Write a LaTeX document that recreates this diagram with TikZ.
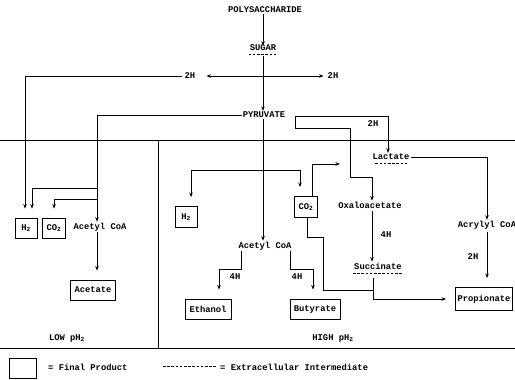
\documentclass[tikz,border=0pt]{standalone}
\usepackage{fontspec}
\setmainfont{Liberation Mono}
\usetikzlibrary{arrows.meta,calc}
\begin{document}
\begin{tikzpicture}[x=1pt,y=-1pt,
  every node/.style={font=\fontsize{8.8}{10}\selectfont\bfseries, inner sep=1pt},
  prod/.style={draw, line width=0.9pt, minimum height=20pt, inner sep=2pt},
  ln/.style={line width=0.9pt},
  arr/.style={ln, -{Stealth[length=4.5pt,width=3.5pt]}},
  tobox/.style={arr, shorten >=9pt},
  dsh/.style={line width=0.8pt, dash pattern=on 2.6pt off 1.6pt}]
\useasboundingbox (0,0) rectangle (515,380);
\coordinate (cx) at (263,0);
\coordinate (sx) at (372,0);

% top chain
\node (poly) at (265,10) {POLYSACCHARIDE};
\node (sugar) at (263,48) {SUGAR};
\draw[dsh] ([yshift=-2.5pt]sugar.south west) -- ([yshift=-2.5pt]sugar.south east);
\node (pyr) at (264,115) {PYRUVATE};
\node (h2l) at (190,76) {2H};
\node (h2r) at (333,76) {2H};
\coordinate (sb) at (263,76);
\draw[arr] (poly.south -| cx) -- ([yshift=-2pt]sugar.north -| cx);
\draw[arr] ([yshift=-4pt]sugar.south -| cx) -- (pyr.north -| cx);
\draw[arr] (sb) -- ([xshift=10pt]h2l.east);
\draw[arr] (sb) -- ([xshift=-3pt]h2r.west);

% dividers
\draw[ln] (0,140) -- (515,140);
\draw[ln] (158,140) -- (158,348);
\draw[ln] (0,348) -- (515,348);

% LOW pH2 region
\node[prod, minimum width=22pt] (lh2) at (26,228) {H\textsubscript{2}};
\node[prod, minimum width=23pt] (lco2) at (54,228) {CO\textsubscript{2}};
\node (lacoa) at (100,227) {Acetyl CoA};
\node[prod, minimum width=45pt] (acet) at (93,290) {Acetate};
\draw[tobox] ([xshift=-2pt]h2l.west) -| ([xshift=-1pt]lh2.north);
\draw[arr] (pyr.west) -| ([xshift=-3pt]lacoa.north);
\coordinate (lb1) at (97,188);
\coordinate (lb2) at (97,199);
\draw[tobox] (lb1) -| ([xshift=6pt]lh2.north);
\draw[tobox] (lb2) -| (lco2.north);
\draw[tobox] ([xshift=-3pt]lacoa.south) -- ([xshift=4pt]acet.north);
\node (low) at (67,338) {LOW pH\textsubscript{2}};

% HIGH pH2 region
\node[prod, minimum width=22pt, minimum height=21pt] (hh2) at (186,217) {H\textsubscript{2}};
\node[prod, minimum width=23pt, minimum height=21pt] (hco2) at (306,207) {CO\textsubscript{2}};
\node (hacoa) at (265,246) {Acetyl CoA};
\node[prod, minimum width=46pt] (eth) at (208,309) {Ethanol};
\node[prod, minimum width=50pt] (but) at (315,309) {Butyrate};
\draw[arr] (pyr.south -| cx) -- (hacoa.north -| cx);
\coordinate (hb) at (263,170);
\draw[tobox] (hb) -| ([xshift=5pt]hh2.north);
\draw[tobox] (hb) -| ([xshift=-6pt]hco2.north);
\coordinate (co2t) at (340,164);
\draw[arr] ([xshift=6pt]hco2.north) |- (co2t);
\coordinate (cj) at (373,290);
\draw[ln] ([xshift=1pt]hco2.south) -- (307,237) -- (323,237) -- (323,290) -- (cj);
\draw[tobox] ([xshift=-24pt]hacoa.south) -- (241,269) -| ([xshift=11pt]eth.north);
\draw[tobox] ([xshift=25pt]hacoa.south) -- (290,269) -| ([xshift=-2pt]but.north);
\node (e4h) at (235,277) {4H};
\node (b4h) at (297,277) {4H};
\node (high) at (333,338) {HIGH pH\textsubscript{2}};

% right branch
\node (lact) at (391,157) {Lactate};
\draw[dsh] ([yshift=-2.5pt,xshift=4pt]lact.south west) -- ([yshift=-2.5pt,xshift=-2pt]lact.south east);
\node (oxa) at (370,205) {Oxaloacetate};
\node (succ) at (378,266) {Succinate};
\draw[dsh] ([yshift=-2.5pt]succ.south west) -- ([yshift=-2.5pt]succ.south east);
\node (acr) at (487,225) {Acrylyl CoA};
\node[prod, minimum width=57pt, minimum height=23pt] (prop) at (484,299) {Propionate};
\coordinate (pb) at (295,122);
\draw[arr] (pb) -- (295,116) -| ([xshift=-3pt]lact.north);
\draw[arr] (pb) -- (295,128) -- (350,128) -- (350,177) -| (oxa.north -| sx);
\node (l2h) at (373,124) {2H};
\draw[arr] (lact.east) -| (acr.north);
\draw[tobox] ([yshift=-2pt]acr.south) -- (prop.north -| acr.south);
\node (p2h) at (473,257) {2H};
\draw[arr] ([yshift=-2pt]oxa.south -| sx) -- (succ.north -| sx);
\node (o4h) at (386,235) {4H};
\coordinate (sj) at (373,278);
\draw[tobox] (sj) |- (prop.west);

% legend
\node[prod, minimum width=27pt, minimum height=20pt] (leg) at (23,368) {};
\node[anchor=west] (legt) at (47,367) {= Final Product};
\coordinate (ld1) at (163,366);
\coordinate (ld2) at (216,366);
\draw[dsh] (ld1) -- (ld2);
\node[anchor=west] (legi) at (219,367) {= Extracellular Intermediate};
\end{tikzpicture}
\end{document}
